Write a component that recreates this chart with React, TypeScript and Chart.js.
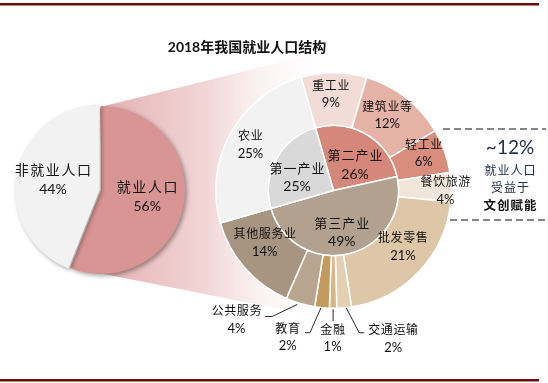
import { useEffect, useRef } from "react";
import { Chart, registerables } from "chart.js";
Chart.register(...registerables);

const titleText = "2018年我国就业人口结构";
const leftLabels = ["就业人口", "非就业人口"];
const leftValues = [56, 44];
const innerLabels = ["第二产业", "第三产业", "第一产业"];
const innerValues = [26, 49, 25];
const outerLabels = ["重工业", "建筑业等", "轻工业", "餐饮旅游", "批发零售", "交通运输", "金融", "教育", "公共服务", "其他服务业", "农业"];
const outerValues = [9, 12, 6, 4, 21, 2, 1, 2, 4, 14, 25];
const noteLines = ["~12%", "就业人口", "受益于", "文创赋能"];

const leftColors = ["#d99594", "#f2f2f2"];
const innerColors = ["#d5887a", "#b3a18f", "#d9d9d9"];
const outerColors = ["#f2dcd5", "#e5b3a6", "#d98d7c", "#efe5d8", "#dec7a7", "#e3cfb2", "#d6b78c", "#c39a5d", "#b7a590", "#a79581", "#f2f2f2"];

const CJK = "'Noto Sans CJK SC', sans-serif";
const NUM = "Lato, 'Noto Sans CJK SC', sans-serif";

type Pos = { r?: number; dx: number; dy: number; leader?: number[][]; ext?: boolean };

const outerPos: Pos[] = [
  { r: 96.5, dx: -3, dy: 0 },
  { r: 92, dx: -3, dy: -3 },
  { r: 100, dx: -4, dy: -4 },
  { r: 112, dx: 0, dy: 3 },
  { r: 90, dx: 4, dy: -6 },
  { ext: true, dx: 49, dy: 31, leader: [[2, 0], [15, 25], [20, 25]] },
  { ext: true, dx: -0.5, dy: 30, leader: [[0, 1], [0, 13]] },
  { ext: true, dx: -34.4, dy: 29.5, leader: [[-1, 0], [-12, 25], [-17, 25]] },
  { ext: true, dx: -63.7, dy: 16.2, leader: [[-3, 1], [-28, 13], [-35, 13]] },
  { r: 88, dx: -2.5, dy: -5.7 },
  { r: 95, dx: 0, dy: 0 },
];
const innerPos: Pos[] = [
  { r: 33, dx: 4.6, dy: 2.8 },
  { r: 42, dx: -2, dy: 1 },
  { r: 40, dx: -1.5, dy: 6 },
];
const leftPos: Pos[] = [
  { r: 47, dx: 0, dy: -2 },
  { r: 49, dx: 0, dy: -1 },
];

function drawTwoLine(ctx: CanvasRenderingContext2D, name: string, pct: string, x: number, y: number, nameSize: number, pctSize: number, gap: number, spacing: number) {
  ctx.fillStyle = "#111";
  ctx.textAlign = "center";
  ctx.textBaseline = "middle";
  ctx.font = `${nameSize}px ${CJK}`;
  (ctx as any).letterSpacing = spacing + "px";
  ctx.fillText(name, x + spacing / 2, y - gap / 2);
  (ctx as any).letterSpacing = "0px";
  ctx.font = `${pctSize}px ${NUM}`;
  ctx.fillText(pct, x, y + gap / 2);
}

function labelArcs(ctx: CanvasRenderingContext2D, meta: any, names: string[], values: number[], pos: Pos[], nameSize: number, pctSize: number, gap: number, spacing: number) {
  meta.data.forEach((arc: any, i: number) => {
    const p = arc.getProps(["x", "y", "startAngle", "endAngle", "outerRadius"], true);
    const mid = (p.startAngle + p.endAngle) / 2;
    const cfg = pos[i];
    let x: number, y: number;
    if (cfg.ext) {
      const ex = p.x + Math.cos(mid) * p.outerRadius;
      const ey = p.y + Math.sin(mid) * p.outerRadius;
      ctx.save();
      ctx.strokeStyle = "#111";
      ctx.lineWidth = 0.9;
      ctx.beginPath();
      cfg.leader!.forEach((pt, k) => {
        if (k === 0) ctx.moveTo(ex + pt[0], ey + pt[1]);
        else ctx.lineTo(ex + pt[0], ey + pt[1]);
      });
      ctx.stroke();
      ctx.restore();
      x = ex + cfg.dx;
      y = ey + cfg.dy;
    } else {
      x = p.x + Math.cos(mid) * cfg.r! + cfg.dx;
      y = p.y + Math.sin(mid) * cfg.r! + cfg.dy;
    }
    drawTwoLine(ctx, names[i], values[i] + "%", x, y, nameSize, pctSize, gap, spacing);
  });
}

const backgroundPlugin = {
  id: "bg",
  beforeDatasetsDraw(chart: any) {
    const ctx: CanvasRenderingContext2D = chart.ctx;
    ctx.save();
    // connector
    const g = ctx.createLinearGradient(100, 0, 335, 0);
    g.addColorStop(0, "rgba(222,160,160,0.85)");
    g.addColorStop(0.45, "rgba(236,196,196,0.7)");
    g.addColorStop(1, "rgba(255,255,255,0)");
    ctx.fillStyle = g;
    ctx.beginPath();
    ctx.moveTo(100, 107);
    ctx.lineTo(335, 49);
    ctx.lineTo(335, 320);
    ctx.lineTo(104, 274);
    ctx.closePath();
    ctx.fill();
    // borders
    ctx.fillStyle = "#6e0b0b";
    ctx.fillRect(0, 3, 539, 2.5);
    ctx.fillRect(0, 379, 539, 2.5);
    // title
    ctx.fillStyle = "#111";
    ctx.textAlign = "center";
    ctx.textBaseline = "middle";
    ctx.font = `bold 14px ${NUM}`;
    ctx.fillText(titleText, 247, 47);
    // dashed lines
    ctx.strokeStyle = "#111";
    ctx.lineWidth = 1.2;
    ctx.setLineDash([7, 4]);
    ctx.beginPath();
    ctx.moveTo(443, 129);
    ctx.lineTo(546, 129);
    ctx.moveTo(450, 220);
    ctx.lineTo(546, 220);
    ctx.stroke();
    ctx.setLineDash([]);
    // note
    ctx.fillStyle = "#22304f";
    ctx.font = `19px ${NUM}`;
    ctx.fillText(noteLines[0], 510, 148);
    ctx.font = `12px ${CJK}`;
    (ctx as any).letterSpacing = "1px";
    ctx.fillText(noteLines[1], 510.5, 170);
    ctx.fillText(noteLines[2], 510.5, 187);
    ctx.fillStyle = "#111";
    ctx.font = `bold 12.5px ${CJK}`;
    ctx.fillText(noteLines[3], 510.5, 205);
    (ctx as any).letterSpacing = "0px";
    ctx.restore();
  },
  afterDatasetsDraw(chart: any) {
    const ctx: CanvasRenderingContext2D = chart.ctx;
    ctx.save();
    labelArcs(ctx, chart.getDatasetMeta(0), outerLabels, outerValues, outerPos, 12, 13, 18, 0.6);
    labelArcs(ctx, chart.getDatasetMeta(1), innerLabels, innerValues, innerPos, 13, 14, 19, 1);
    ctx.restore();
  },
};

const leftPlugin = {
  id: "leftlab",
  beforeDatasetsDraw(chart: any) {
    const ctx: CanvasRenderingContext2D = chart.ctx;
    ctx.save();
    ctx.shadowColor = "rgba(0,0,0,0.35)";
    ctx.shadowBlur = 4;
    ctx.shadowOffsetX = 2;
    ctx.shadowOffsetY = 2;
  },
  afterDatasetsDraw(chart: any) {
    const ctx: CanvasRenderingContext2D = chart.ctx;
    ctx.restore();
    ctx.save();
    labelArcs(ctx, chart.getDatasetMeta(0), leftLabels, leftValues, leftPos, 14, 14, 19.5, 1.6);
    ctx.restore();
  },
};

export default function App() {
  const mainRef = useRef<HTMLCanvasElement>(null);
  const leftRef = useRef<HTMLCanvasElement>(null);

  useEffect(() => {
    const main = new Chart(mainRef.current!, {
      type: "doughnut",
      data: {
        labels: outerLabels,
        datasets: [
          { data: outerValues, backgroundColor: outerColors, weight: 52.5 } as any,
          { data: innerValues, backgroundColor: innerColors, weight: 65 } as any,
        ],
      },
      options: {
        responsive: false,
        animation: false,
        cutout: 0,
        rotation: -16,
        layout: { padding: { left: 215, right: 96, top: 72, bottom: 74 } },
        elements: { arc: { borderColor: "#ffffff", borderWidth: 1.5, hoverBorderWidth: 1.5, hoverOffset: 0 } as any },
        plugins: { legend: { display: false }, tooltip: { enabled: false }, title: { display: false } },
        events: [],
      },
      plugins: [backgroundPlugin],
    });
    const left = new Chart(leftRef.current!, {
      type: "pie",
      data: {
        labels: leftLabels,
        datasets: [{ data: leftValues, backgroundColor: leftColors, borderWidth: 0, offset: [0, 5] } as any],
      },
      options: {
        responsive: false,
        animation: false,
        rotation: 0,
        layout: { padding: { left: 14.5, right: 32.5, top: 23.5, bottom: 23.5 } },
        elements: { arc: { hoverOffset: 0 } as any },
        plugins: { legend: { display: false }, tooltip: { enabled: false } },
        events: [],
      },
      plugins: [leftPlugin],
    });
    return () => {
      main.destroy();
      left.destroy();
    };
  }, []);

  return (
    <div style={{ position: "fixed", left: 0, top: 0, width: 548, height: 383, background: "#fff", overflow: "hidden" }}>
      <canvas ref={mainRef} width={548} height={383} style={{ position: "absolute", left: 0, top: 0 }} />
      <canvas ref={leftRef} width={220} height={220} style={{ position: "absolute", left: 0, top: 80 }} />
    </div>
  );
}
